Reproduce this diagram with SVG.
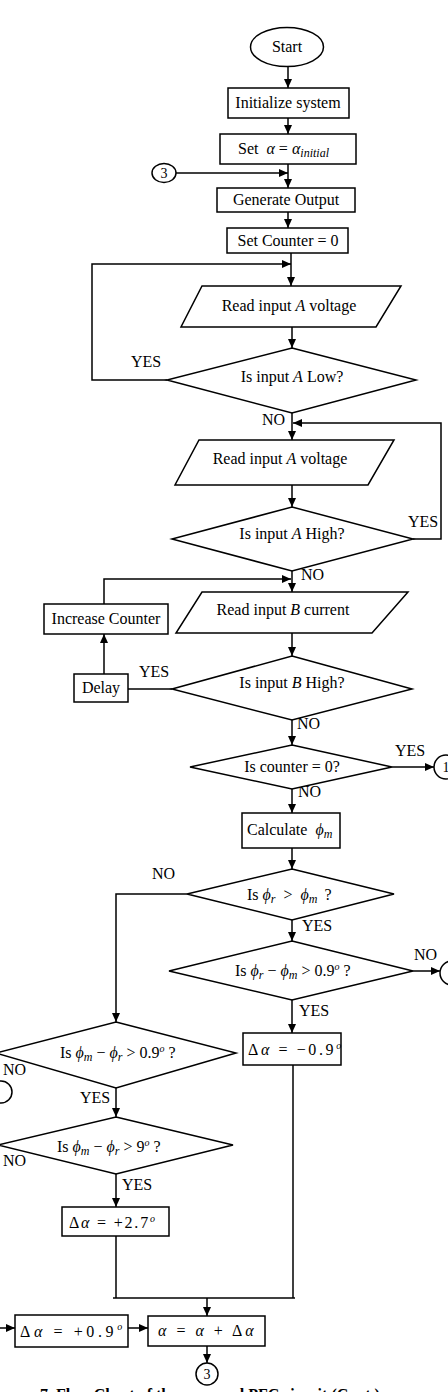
<svg xmlns="http://www.w3.org/2000/svg" width="448" height="1392" viewBox="0 0 448 1392">
<defs>
<marker id="ah" markerUnits="userSpaceOnUse" markerWidth="10" markerHeight="8" refX="9" refY="4" orient="auto">
<path d="M0,0 L9,4 L0,8 Z" fill="#000"/>
</marker>
<style>
.s{fill:#fff;stroke:#000;stroke-width:1.5}
.c{fill:none;stroke:#000;stroke-width:1.5}
.a{marker-end:url(#ah)}
text{font-family:"Liberation Serif","Times New Roman",serif;font-size:16px;fill:#000}
.m{text-anchor:middle}
.i{font-style:italic}
.sub{font-size:12px;font-style:italic}
.sup{font-size:10px;font-style:italic}
.cap{font-weight:bold;font-size:16px}
</style>
</defs>
<rect width="448" height="1392" fill="#fff"/>

<g id="connectors">
<path class="c a" d="M288,67 V88"/>
<path class="c a" d="M288,118 V134"/>
<path class="c a" d="M288,164 V188"/>
<path class="c a" d="M176,173 H288"/>
<path class="c a" d="M288,212 V228"/>
<path class="c a" d="M291,253 V286"/>
<path class="c a" d="M167,380 H92 V264 H291"/>
<path class="c a" d="M292,327 V348"/>
<path class="c a" d="M292,413 V440"/>
<path class="c a" d="M413,539 H441 V423 H293"/>
<path class="c a" d="M292,485 V507"/>
<path class="c a" d="M292,571 V592"/>
<path class="c a" d="M104,604 V579 H291"/>
<path class="c a" d="M292,633 V656"/>
<path class="c" d="M172,689 H128"/>
<path class="c a" d="M104,674 V634"/>
<path class="c a" d="M292,720 V745"/>
<path class="c a" d="M392,767 H434"/>
<path class="c a" d="M292,789 V813"/>
<path class="c a" d="M292,848 V869"/>
<path class="c a" d="M187,894 H116 V1022"/>
<path class="c a" d="M292,920 V941"/>
<path class="c a" d="M413,971 H440"/>
<path class="c a" d="M292,1000 V1033"/>
<path class="c" d="M293,1065 V1298"/>
<path class="c a" d="M116,1088 V1117"/>
<path class="c a" d="M116,1174 V1207"/>
<path class="c" d="M116,1236 V1298"/>
<path class="c" d="M113,1298 H295"/>
<path class="c a" d="M207,1298 V1316"/>
<path class="c a" d="M0,1328 H15"/>
<path class="c a" d="M128,1328 H148"/>
<path class="c a" d="M207,1346 V1363"/>
</g>

<g id="labels">
<text class="m" x="146" y="367">YES</text>
<text x="262" y="425">NO</text>
<text x="408" y="527">YES</text>
<text x="301" y="580">NO</text>
<text x="139" y="677">YES</text>
<text x="297" y="729">NO</text>
<text x="395" y="756">YES</text>
<text x="298" y="797">NO</text>
<text x="152" y="879">NO</text>
<text x="302" y="931">YES</text>
<text x="414" y="960">NO</text>
<text x="299" y="1016">YES</text>
<text x="3" y="1075">NO</text>
<text x="80" y="1103">YES</text>
<text x="3" y="1166">NO</text>
<text x="122" y="1190">YES</text>
</g>

<g id="start"><ellipse class="s" cx="287" cy="47" rx="36.5" ry="19.5"/><text class="m" x="287" y="52">Start</text></g>
<g id="init"><rect class="s" x="228" y="88" width="121" height="30"/><text class="m" x="288" y="108">Initialize system</text></g>
<g id="setalpha"><rect class="s" x="220" y="134" width="136" height="30"/><text x="238" y="154">Set <tspan class="i" dx="4">α</tspan> = <tspan class="i">α</tspan><tspan class="sub" dy="3">initial</tspan></text></g>
<g id="conn3top"><ellipse class="s" cx="164" cy="173" rx="12" ry="9.5"/><text class="m" x="164" y="178" style="font-size:14px">3</text></g>
<g id="genout"><rect class="s" x="217" y="188" width="138" height="24"/><text class="m" x="286" y="205">Generate Output</text></g>
<g id="setcounter"><rect class="s" x="227" y="228" width="121" height="25"/><text class="m" x="288" y="246">Set Counter = 0</text></g>
<g id="readA1"><path class="s" d="M202,286 L401,286 L376,327 L181,327 Z"/><text class="m" x="289" y="311">Read input <tspan class="i">A</tspan> voltage</text></g>
<g id="isLow"><path class="s" d="M292,348 L416,380 L292,413 L167,380 Z"/><text class="m" x="292" y="382">Is input <tspan class="i">A</tspan> Low?</text></g>
<g id="readA2"><path class="s" d="M199,440 L394,440 L368,485 L175,485 Z"/><text class="m" x="280" y="464">Read input <tspan class="i">A</tspan> voltage</text></g>
<g id="isHighA"><path class="s" d="M292,507 L413,539 L292,571 L172,539 Z"/><text class="m" x="292" y="539">Is input <tspan class="i">A</tspan> High?</text></g>
<g id="incCounter"><rect class="s" x="44" y="604" width="124" height="30"/><text class="m" x="106" y="624">Increase Counter</text></g>
<g id="readB"><path class="s" d="M202,592 L408,592 L372,633 L176,633 Z"/><text class="m" x="283" y="615">Read input <tspan class="i">B</tspan> current</text></g>
<g id="delay"><rect class="s" x="74" y="674" width="54" height="28"/><text class="m" x="101" y="693">Delay</text></g>
<g id="isHighB"><path class="s" d="M292,656 L412,689 L292,720 L172,689 Z"/><text class="m" x="292" y="688">Is input <tspan class="i">B</tspan> High?</text></g>
<g id="isCounter"><path class="s" d="M292,745 L392,767 L292,789 L190,767 Z"/><text class="m" x="292" y="772">Is counter = 0?</text></g>
<g id="conn1"><circle class="s" cx="446" cy="767" r="12"/><text class="m" x="446" y="772" style="font-size:14px">1</text></g>
<g id="calc"><rect class="s" x="242" y="813" width="98" height="35"/><text x="247" y="835">Calculate <tspan class="i" dx="4">ϕ</tspan><tspan class="sub" dy="3">m</tspan></text></g>
<g id="cmp1"><path class="s" d="M292,869 L394,894 L292,920 L187,894 Z"/><text x="247" y="900">Is <tspan class="i">ϕ</tspan><tspan class="sub" dy="3">r</tspan><tspan dy="-3" dx="8">&gt;</tspan> <tspan class="i" dx="4">ϕ</tspan><tspan class="sub" dy="3">m</tspan><tspan dy="-3" dx="7">?</tspan></text></g>
<g id="cmp2"><path class="s" d="M292,941 L413,971 L292,1000 L169,971 Z"/><text x="235" y="976">Is <tspan class="i">ϕ</tspan><tspan class="sub" dy="3">r</tspan><tspan dy="-3"> − </tspan><tspan class="i">ϕ</tspan><tspan class="sub" dy="3">m</tspan><tspan dy="-3"> &gt; 0.9</tspan><tspan class="sup" dy="-6">o</tspan><tspan dy="6"> ?</tspan></text></g>
<g id="conn2"><circle class="s" cx="452" cy="973" r="12"/></g>
<g id="dminus09"><rect class="s" x="243" y="1033" width="98" height="32"/><text x="248" y="1055" style="letter-spacing:2.6px">Δ<tspan class="i">α</tspan>  =  −0.9<tspan class="sup" dy="-6">o</tspan></text></g>
<g id="cmp3"><path class="s" d="M116,1022 L236,1053 L116,1088 L-4,1053 Z"/><text x="60" y="1058">Is <tspan class="i">ϕ</tspan><tspan class="sub" dy="3">m</tspan><tspan dy="-3"> − </tspan><tspan class="i">ϕ</tspan><tspan class="sub" dy="3">r</tspan><tspan dy="-3"> &gt; 0.9</tspan><tspan class="sup" dy="-6">o</tspan><tspan dy="6"> ?</tspan></text></g>
<g id="connLeft"><circle class="s" cx="1" cy="1092" r="11"/></g>
<g id="cmp4"><path class="s" d="M116,1117 L233,1145 L116,1174 L-2,1145 Z"/><text x="57" y="1152">Is <tspan class="i">ϕ</tspan><tspan class="sub" dy="3">m</tspan><tspan dy="-3"> − </tspan><tspan class="i">ϕ</tspan><tspan class="sub" dy="3">r</tspan><tspan dy="-3"> &gt; 9</tspan><tspan class="sup" dy="-6">o</tspan><tspan dy="6"> ?</tspan></text></g>
<g id="dplus27"><rect class="s" x="62" y="1207" width="107" height="29"/><text x="69" y="1228" style="letter-spacing:1.8px">Δ<tspan class="i">α</tspan> = +2.7<tspan class="sup" dy="-6">o</tspan></text></g>
<g id="dplus09"><rect class="s" x="15" y="1315" width="113" height="32"/><text x="20" y="1337" style="letter-spacing:3.6px">Δ<tspan class="i">α</tspan> = +0.9<tspan class="sup" dy="-7">o</tspan></text></g>
<g id="update"><rect class="s" x="148" y="1316" width="117" height="30"/><text x="158" y="1336" style="letter-spacing:3px"><tspan class="i">α</tspan> = <tspan class="i">α</tspan> + Δ<tspan class="i">α</tspan></text></g>
<g id="conn3bottom"><circle class="s" cx="207" cy="1374" r="11"/><text class="m" x="207" y="1379" style="font-size:14px">3</text></g>
<text class="cap" x="40" y="1400">7. Flow Chart of the proposed PFC circuit (Cont.)</text>
</svg>
